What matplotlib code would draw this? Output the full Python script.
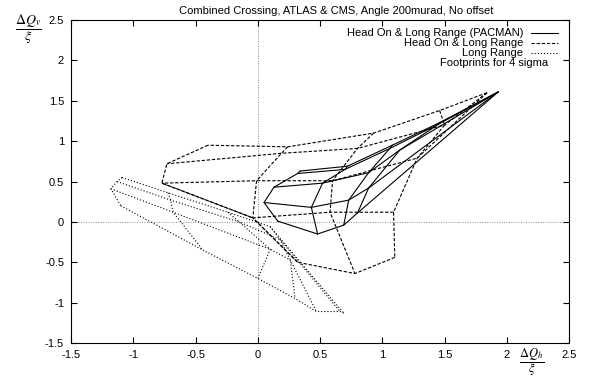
import matplotlib
matplotlib.use("Agg")
import matplotlib.pyplot as plt

plt.rcParams["font.family"] = ["Liberation Sans", "DejaVu Sans"]
plt.rcParams["mathtext.fontset"] = "stix"

nan = float("nan")

title = "Combined Crossing, ATLAS & CMS, Angle 200murad, No offset"
labels = ["Head On & Long Range (PACMAN)", "Head On & Long Range", "Long Range"]
note = "Footprints for 4 sigma"
xticks = [-1.5, -1, -0.5, 0, 0.5, 1, 1.5, 2, 2.5]
yticks = [-1.5, -1, -0.5, 0, 0.5, 1, 1.5, 2, 2.5]

# footprint grids: one row per amplitude step (0 .. 4 sigma), one column per angle
pacman_x = [
    [1.93, 1.93, 1.93, 1.93, 1.93],
    [1.46, 1.45, 1.14, 0.89, 0.80],
    [1.08, 1.06, 0.89, 0.73, 0.69],
    [0.72, 0.70, 0.52, 0.43, 0.48],
    [0.34, 0.32, 0.13, 0.05, 0.16],
]
pacman_y = [
    [1.61, 1.61, 1.61, 1.61, 1.61],
    [1.23, 1.21, 0.89, 0.42, 0.11],
    [0.95, 0.91, 0.61, 0.27, -0.04],
    [0.69, 0.65, 0.48, 0.18, -0.15],
    [0.63, 0.60, 0.43, 0.24, 0.01],
]

headon_x = [
    [1.84, 1.84, 1.84, nan, nan],
    [1.46, 1.50, 1.28, 1.09, 1.10],
    [0.93, 0.80, 0.60, 0.58, 0.78],
    [0.24, 0.19, -0.01, -0.04, 0.32],
    [-0.40, -0.73, -0.77, -0.77, -0.04],
]
headon_y = [
    [1.60, 1.60, 1.60, nan, nan],
    [1.38, 1.20, 0.79, 0.12, -0.44],
    [1.10, 0.91, 0.51, 0.12, -0.64],
    [0.93, 0.85, 0.51, 0.05, -0.50],
    [0.95, 0.72, 0.48, 0.48, 0.05],
]

longrange_x = [
    [-1.09, -1.13, -1.18, -1.10],
    [-0.72, -0.70, -0.68, -0.44],
    [-0.24, -0.15, 0.10, 0.00],
    [0.10, 0.18, 0.26, 0.30],
    [0.69, 0.66, 0.47, 0.47],
]
longrange_y = [
    [0.55, 0.50, 0.41, 0.20],
    [0.36, 0.27, 0.12, -0.35],
    [0.12, 0.00, -0.34, -0.70],
    [-0.06, -0.22, -0.47, -0.95],
    [-1.13, -1.11, -1.11, -1.11],
]

styles = [
    dict(color="black", lw=0.8, linestyle="-"),
    dict(color="black", lw=0.8, dashes=(3, 1.6)),
    dict(color="black", lw=0.8, dashes=(1, 1.8)),
]


def plot_footprint(ax, gx, gy, style):
    for row_x, row_y in zip(gx, gy):
        ax.plot(row_x, row_y, **style)
    for col_x, col_y in zip(zip(*gx), zip(*gy)):
        ax.plot(col_x, col_y, **style)


def draw_key(ax, labels, styles, note):
    y = 0.960
    for label, style in zip(labels, styles):
        ax.text(0.908, y, label, transform=ax.transAxes, ha="right", va="center", fontsize=8)
        ax.plot([0.924, 0.978], [y, y], transform=ax.transAxes, clip_on=False, **style)
        y -= 0.031
    ax.text(0.958, y, note, transform=ax.transAxes, ha="right", va="center", fontsize=8)


fig = plt.figure(figsize=(6.12, 3.79), dpi=100)
ax = fig.add_axes([0.116, 0.095, 0.814, 0.852])

ax.axhline(0, color="#888888", lw=0.7, dashes=(1, 1.5), zorder=0)
ax.axvline(0, color="#888888", lw=0.7, dashes=(1, 1.5), zorder=0)

plot_footprint(ax, pacman_x, pacman_y, styles[0])
plot_footprint(ax, headon_x, headon_y, styles[1])
plot_footprint(ax, longrange_x, longrange_y, styles[2])

ax.set_xlim(-1.5, 2.5)
ax.set_ylim(-1.5, 2.5)
ax.set_xticks(xticks)
ax.set_yticks(yticks)
ax.set_xticklabels(["{:g}".format(t) for t in xticks])
ax.set_yticklabels(["{:g}".format(t) for t in yticks])
ax.tick_params(direction="in", length=4, width=0.8, top=True, right=True, labelsize=8, pad=5)
for s in ax.spines.values():
    s.set_linewidth(0.8)

draw_key(ax, labels, styles, note)

fig.text(0.549, 0.971, title, ha="center", va="center", fontsize=8)
fig.text(0.046, 0.922, r"$\dfrac{\Delta Q_v}{\xi}$", ha="center", va="center", fontsize=10)
fig.text(0.868, 0.044, r"$\dfrac{\Delta Q_h}{\xi}$", ha="center", va="center", fontsize=9)

fig.savefig("out.png", dpi=100)
